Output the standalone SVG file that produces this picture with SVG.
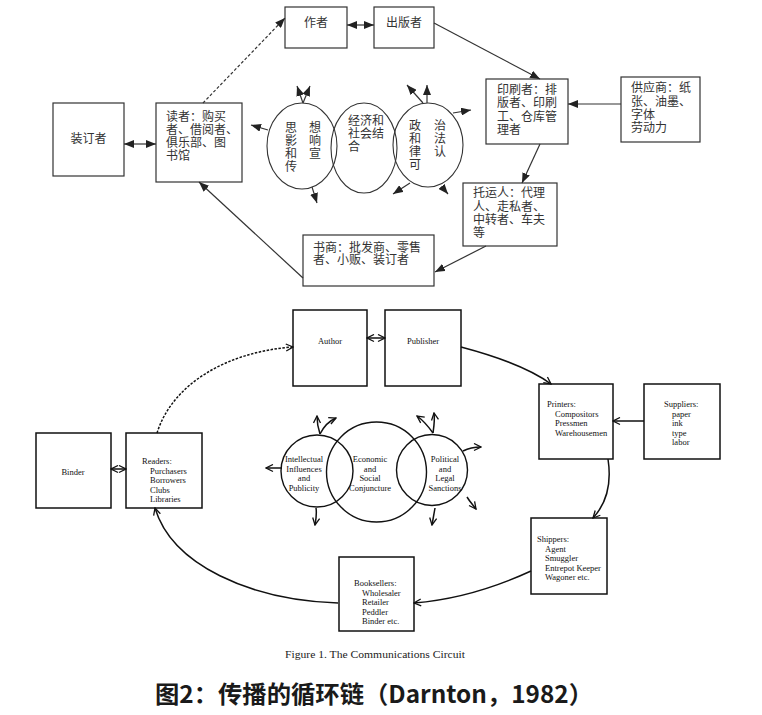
<svg xmlns="http://www.w3.org/2000/svg" width="762" height="715" viewBox="0 0 762 715">
<style>
.box{fill:#fff;stroke:#333;stroke-width:1.2}
.bx2{fill:#fff;stroke:#111;stroke-width:1.5}
.cn{font-family:"Noto Sans CJK SC","Noto Sans",sans-serif;font-size:12px;fill:#333}
.vt{font-family:"Noto Sans CJK SC","Noto Sans",sans-serif;font-size:12px;fill:#333;writing-mode:tb;letter-spacing:1px}
.en{font-family:"Liberation Serif","Times New Roman",serif;font-size:8.5px;fill:#111}
.ln{fill:none;stroke:#333;stroke-width:1.2}
.ln2{fill:none;stroke:#111;stroke-width:1.5}
.ell{fill:none;stroke:#333;stroke-width:1.1}
.cir{fill:none;stroke:#111;stroke-width:1.4}
</style>
<defs>
<marker id="fa" markerUnits="userSpaceOnUse" markerWidth="10" markerHeight="8" viewBox="0 0 10 8" refX="10" refY="4" orient="auto-start-reverse">
<path d="M0,0 L10,4 L0,8 z" fill="#222"/>
</marker>
<marker id="oa" markerUnits="userSpaceOnUse" markerWidth="9" markerHeight="9" viewBox="0 0 9 9" refX="8" refY="4.5" orient="auto-start-reverse">
<path d="M1,1 L8,4.5 L1,8" fill="none" stroke="#111" stroke-width="1.3"/>
</marker>
</defs>
<rect width="762" height="715" fill="#fff"/>

<!-- ===== Top (Chinese) diagram ===== -->
<g id="zh-binder">
<rect class="box" x="53" y="103" width="71" height="73"/>
<text class="cn" x="88.5" y="143" text-anchor="middle">装订者</text>
</g>
<g id="zh-readers">
<rect class="box" x="156" y="103" width="86" height="79"/>
<text class="cn" x="166"><tspan x="166" y="121">读者：购买</tspan><tspan x="166" y="134">者、借阅者、</tspan><tspan x="166" y="147">俱乐部、图</tspan><tspan x="166" y="160">书馆</tspan></text>
</g>
<g id="zh-author">
<rect class="box" x="285" y="7" width="62" height="41"/>
<text class="cn" x="316" y="27" text-anchor="middle">作者</text>
</g>
<g id="zh-publisher">
<rect class="box" x="374" y="7" width="60" height="41"/>
<text class="cn" x="404" y="27" text-anchor="middle">出版者</text>
</g>
<g id="zh-printers">
<rect class="box" x="486" y="79" width="82" height="65"/>
<text class="cn"><tspan x="497" y="94">印刷者：排</tspan><tspan x="497" y="107">版者、印刷</tspan><tspan x="497" y="121">工、仓库管</tspan><tspan x="497" y="134">理者</tspan></text>
</g>
<g id="zh-suppliers">
<rect class="box" x="621" y="77" width="79" height="65"/>
<text class="cn"><tspan x="631" y="92">供应商：纸</tspan><tspan x="631" y="106">张、油墨、</tspan><tspan x="631" y="119">字体</tspan><tspan x="631" y="132">劳动力</tspan></text>
</g>
<g id="zh-shippers">
<rect class="box" x="463" y="183" width="94" height="63"/>
<text class="cn"><tspan x="473" y="197">托运人：代理</tspan><tspan x="473" y="211">人、走私者、</tspan><tspan x="473" y="224">中转者、车夫</tspan><tspan x="473" y="237">等</tspan></text>
</g>
<g id="zh-booksellers">
<rect class="box" x="303" y="235" width="131" height="51"/>
<text class="cn"><tspan x="313" y="252">书商：批发商、零售</tspan><tspan x="313" y="264">者、小贩、装订者</tspan></text>
</g>
<g id="zh-intellectual">
<ellipse class="ell" cx="302" cy="146" rx="35" ry="43"/>
<text class="vt" x="291" y="121">思影和传</text>
<text class="vt" x="315" y="121">想响宣</text>
</g>
<g id="zh-economic">
<ellipse class="ell" cx="364" cy="148" rx="33" ry="45"/>
<text class="cn"><tspan x="348" y="125">经济和</tspan><tspan x="348" y="138">社会结</tspan><tspan x="348" y="151">合</tspan></text>
</g>
<g id="zh-political">
<ellipse class="ell" cx="428" cy="145" rx="35" ry="42"/>
<text class="vt" x="415" y="119">政和律可</text>
<text class="vt" x="440" y="119">治法认</text>
</g>

<g id="zh-connectors">
<line class="ln" x1="124" y1="144" x2="156" y2="144" marker-start="url(#fa)" marker-end="url(#fa)"/>
<line class="ln" x1="347" y1="25" x2="374" y2="25" marker-start="url(#fa)" marker-end="url(#fa)"/>
<line class="ln" x1="203" y1="103" x2="285" y2="18" stroke-dasharray="3,2" marker-end="url(#fa)"/>
<line class="ln" x1="434" y1="23" x2="540" y2="79" marker-end="url(#fa)"/>
<line class="ln" x1="621" y1="104" x2="568" y2="104" marker-end="url(#fa)"/>
<line class="ln" x1="540" y1="144" x2="522" y2="183" marker-end="url(#fa)"/>
<line class="ln" x1="486" y1="246" x2="435" y2="272" marker-end="url(#fa)"/>
<line class="ln" x1="303" y1="278" x2="199" y2="182" marker-end="url(#fa)"/>
<!-- small influence arrows -->
<line class="ln" x1="303" y1="103" x2="297" y2="86" marker-end="url(#fa)"/>
<line class="ln" x1="303" y1="103" x2="310" y2="86" marker-end="url(#fa)"/>
<line class="ln" x1="268" y1="130" x2="251" y2="125" marker-end="url(#fa)"/>
<line class="ln" x1="312" y1="187" x2="317" y2="203" marker-end="url(#fa)"/>
<line class="ln" x1="423" y1="103" x2="407" y2="85" marker-end="url(#fa)"/>
<line class="ln" x1="427" y1="103" x2="427" y2="85" marker-end="url(#fa)"/>
<line class="ln" x1="453" y1="113" x2="471" y2="110" marker-end="url(#fa)"/>
<line class="ln" x1="410" y1="183" x2="393" y2="194" marker-end="url(#fa)"/>
<line class="ln" x1="442" y1="187" x2="448" y2="194" marker-end="url(#fa)"/>
</g>

<!-- ===== Bottom (English) diagram ===== -->
<g id="en-author">
<rect class="bx2" x="293" y="310" width="74" height="76"/>
<text class="en" x="330" y="344" text-anchor="middle">Author</text>
</g>
<g id="en-publisher">
<rect class="bx2" x="385" y="310" width="76" height="76"/>
<text class="en" x="423" y="344" text-anchor="middle">Publisher</text>
</g>
<g id="en-binder">
<rect class="bx2" x="36" y="433" width="75" height="75"/>
<text class="en" x="73" y="475" text-anchor="middle">Binder</text>
</g>
<g id="en-readers">
<rect class="bx2" x="126" y="433" width="76" height="75"/>
<text class="en"><tspan x="142" y="464">Readers:</tspan><tspan x="150" y="473.5">Purchasers</tspan><tspan x="150" y="483">Borrowers</tspan><tspan x="150" y="492.5">Clubs</tspan><tspan x="150" y="502">Libraries</tspan></text>
</g>
<g id="en-printers">
<rect class="bx2" x="539" y="384" width="74" height="75"/>
<text class="en"><tspan x="547" y="407">Printers:</tspan><tspan x="555" y="416.5">Compositors</tspan><tspan x="555" y="426">Pressmen</tspan><tspan x="555" y="435.5">Warehousemen</tspan></text>
</g>
<g id="en-suppliers">
<rect class="bx2" x="644" y="384" width="76" height="75"/>
<text class="en"><tspan x="664" y="407">Suppliers:</tspan><tspan x="672" y="416.5">paper</tspan><tspan x="672" y="426">ink</tspan><tspan x="672" y="435.5">type</tspan><tspan x="672" y="445">labor</tspan></text>
</g>
<g id="en-shippers">
<rect class="bx2" x="531" y="518" width="76" height="76"/>
<text class="en"><tspan x="537" y="542">Shippers:</tspan><tspan x="545" y="551.5">Agent</tspan><tspan x="545" y="561">Smuggler</tspan><tspan x="545" y="570.5">Entrepot Keeper</tspan><tspan x="545" y="580">Wagoner etc.</tspan></text>
</g>
<g id="en-booksellers">
<rect class="bx2" x="339" y="557" width="75" height="74"/>
<text class="en"><tspan x="354" y="586">Booksellers:</tspan><tspan x="362" y="595.5">Wholesaler</tspan><tspan x="362" y="605">Retailer</tspan><tspan x="362" y="614.5">Peddler</tspan><tspan x="362" y="624">Binder etc.</tspan></text>
</g>
<g id="en-intellectual">
<circle class="cir" cx="317" cy="471" r="36"/>
<text class="en" text-anchor="middle"><tspan x="304" y="462">Intellectual</tspan><tspan x="304" y="471.5">Influences</tspan><tspan x="304" y="481">and</tspan><tspan x="304" y="490.5">Publicity</tspan></text>
</g>
<g id="en-economic">
<circle class="cir" cx="376.5" cy="472" r="50"/>
<text class="en" text-anchor="middle"><tspan x="370" y="462">Economic</tspan><tspan x="370" y="471.5">and</tspan><tspan x="370" y="481">Social</tspan><tspan x="370" y="490.5">Conjuncture</tspan></text>
</g>
<g id="en-political">
<circle class="cir" cx="432" cy="470" r="35.5"/>
<text class="en" text-anchor="middle"><tspan x="445" y="462">Political</tspan><tspan x="445" y="471.5">and</tspan><tspan x="445" y="481">Legal</tspan><tspan x="445" y="490.5">Sanctions</tspan></text>
</g>

<g id="en-connectors">
<line class="ln2" x1="111" y1="469" x2="126" y2="469" marker-start="url(#oa)" marker-end="url(#oa)"/>
<line class="ln2" x1="367" y1="338" x2="385" y2="338" marker-start="url(#oa)" marker-end="url(#oa)"/>
<path class="ln2" d="M157,433 C172,385 225,352 293,347" stroke-dasharray="2.5,1.5" marker-end="url(#oa)"/>
<path class="ln2" d="M461,347 C495,356 528,367 551,384" marker-end="url(#oa)"/>
<line class="ln2" x1="644" y1="421" x2="613" y2="421" marker-end="url(#oa)"/>
<path class="ln2" d="M608,459 C612,485 606,504 593,518" marker-end="url(#oa)"/>
<path class="ln2" d="M531,571 C492,589 452,600 414,603" marker-end="url(#oa)"/>
<path class="ln2" d="M338,603 C250,600 172,565 155,508" marker-end="url(#oa)"/>
<!-- small influence arrows -->
<path class="ln2" d="M320,434 C318,428 317,423 317,416" marker-end="url(#oa)"/>
<path class="ln2" d="M320,434 C324,426 329,421 336,418" marker-end="url(#oa)"/>
<line class="ln2" x1="282" y1="468" x2="266" y2="468" marker-end="url(#oa)"/>
<path class="ln2" d="M316,508 C317,514 316,519 315,525" marker-end="url(#oa)"/>
<path class="ln2" d="M433,433 C428,426 424,421 417,416" marker-end="url(#oa)"/>
<path class="ln2" d="M433,433 C434,426 435,420 434,413" marker-end="url(#oa)"/>
<path class="ln2" d="M463,451 C469,448 474,447 481,447" marker-end="url(#oa)"/>
<path class="ln2" d="M467,497 C470,502 473,505 476,509" marker-end="url(#oa)"/>
<path class="ln2" d="M435,508 C434,514 433,519 432,525" marker-end="url(#oa)"/>
</g>

<g id="captions">
<text x="375" y="658" text-anchor="middle" font-family="'Liberation Serif','Times New Roman',serif" font-size="10.5" fill="#222" textLength="180" lengthAdjust="spacingAndGlyphs">Figure 1. The Communications Circuit</text>
<text x="374" y="703" text-anchor="middle" font-family="'Noto Sans CJK SC','Liberation Sans',sans-serif" font-size="24" font-weight="bold" fill="#1a1a1a" textLength="438" lengthAdjust="spacingAndGlyphs">图2：传播的循环链（Darnton，1982）</text>
</g>
</svg>
